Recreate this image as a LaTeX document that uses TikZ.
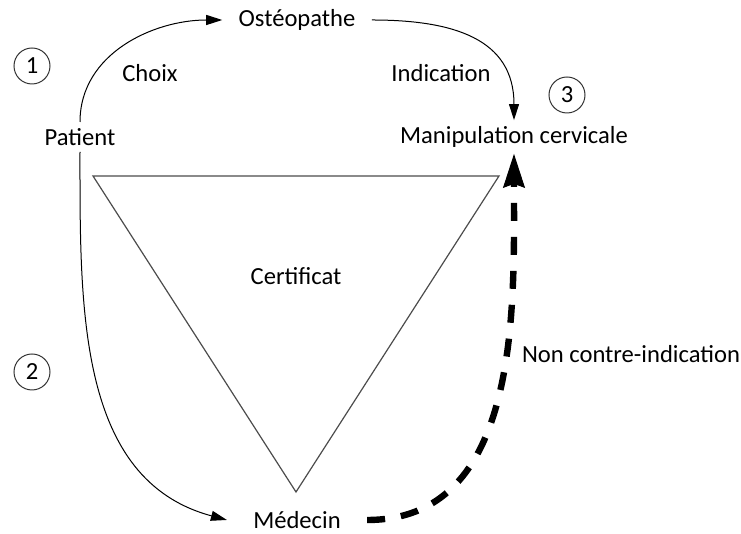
\documentclass[tikz,border=0pt]{standalone}
\usepackage{fontspec}
\setmainfont{Carlito}
\usetikzlibrary{arrows.meta}
\tikzset{
  lbl/.style={inner sep=3pt,font=\fontsize{12.3}{15}\selectfont},
  num/.style={draw=black!80,line width=.5pt,circle,minimum size=18pt,inner sep=0pt,
    font=\fontsize{12.3}{15}\selectfont},
  flow/.style={-{Triangle[length=8pt,width=5pt]},line width=.5pt},
  bigflow/.style={-{Stealth[length=17pt,width=11pt,inset=2pt,line width=.5pt]},
    line width=3.2pt,dash pattern=on 9pt off 8pt},
  tri/.style={draw=black!70,line width=.6pt}
}
\begin{document}
\begin{tikzpicture}[x=.5pt,y=.5pt]
 \useasboundingbox (0,0) rectangle (741,534);
 % the certificate triangle
 \draw[tri] (93,358) -- (499,358) -- (296,42) -- cycle;
 \node[lbl] (certif) at (296,258) {Certificat};
 % actors
 \node[lbl] (patient) at (80,397) {Patient};
 \node[lbl,inner xsep=8pt] (osteo) at (297,514) {Ostéopathe};
 \node[lbl] (manip) at (514,397) {Manipulation cervicale};
 \node[lbl,inner xsep=13pt] (medecin) at (297,14) {Médecin};
 % edge labels
 \node[lbl] (choix) at (150,461) {Choix};
 \node[lbl] (indic) at (441,461) {Indication};
 \node[lbl] (nonci) at (631,180) {Non contre-indication};
 % steps
 \node[num] (n1) at (32,468) {1};
 \node[num] (n2) at (32,162) {2};
 \node[num] (n3) at (567,439) {3};
 % paths
 \draw[flow] (patient.north) to[out=90,in=180] (osteo.west);
 \draw[flow] (osteo.east) to[out=0,in=90,looseness=1.2] (manip.north);
 \draw[flow] (patient.south) to[out=-90,in=165] (medecin.west);
 \draw[bigflow] (medecin.east) to[out=0,in=-90] (manip.south);
\end{tikzpicture}
\end{document}
